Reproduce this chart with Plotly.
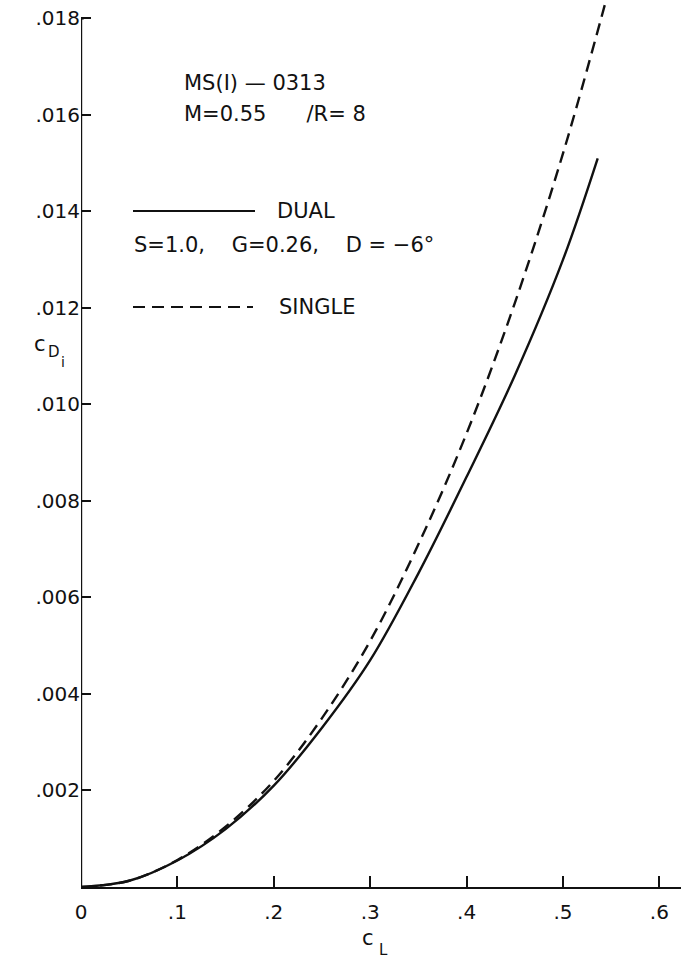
import plotly.graph_objects as go

# Lift coefficient stations and induced drag for the two configurations
cl = [0.0, 0.05, 0.10, 0.15, 0.20, 0.25, 0.30, 0.35, 0.40, 0.45, 0.50, 0.536]
cdi_dual = [0.0, 0.00013, 0.00055, 0.0012, 0.0021, 0.0033, 0.0047, 0.0065, 0.0085, 0.0106, 0.0130, 0.0151]

cl_single = [0.0, 0.05, 0.10, 0.15, 0.20, 0.25, 0.30, 0.35, 0.40, 0.45, 0.50, 0.545]
cdi_single = [0.0, 0.00013, 0.00056, 0.00125, 0.0022, 0.0035, 0.0051, 0.0071, 0.0094, 0.0121, 0.0152, 0.0184]

x_ticks = [0.1, 0.2, 0.3, 0.4, 0.5, 0.6]
x_tick_text = [".1", ".2", ".3", ".4", ".5", ".6"]
y_ticks = [0.002, 0.004, 0.006, 0.008, 0.010, 0.012, 0.014, 0.016, 0.018]
y_tick_text = [".002", ".004", ".006", ".008", ".010", ".012", ".014", ".016", ".018"]

FONT = "DejaVu Sans"
INK = "#111111"

W, H = 681, 967
ML, MB = 81, 80
X_MAX = 0.6224
Y_MAX = 0.01838


def px(xp):
    return (xp - ML) / (W - ML)


def py(yp):
    return (H - MB - yp) / (H - MB)


fig = go.Figure()
fig.add_trace(go.Scatter(x=cl, y=cdi_dual, mode="lines", line=dict(color=INK, width=2.4, shape="spline"),
                         showlegend=False, hoverinfo="skip"))
fig.add_trace(go.Scatter(x=cl_single, y=cdi_single, mode="lines",
                         line=dict(color=INK, width=2.4, dash="12px,7px", shape="spline"),
                         showlegend=False, hoverinfo="skip"))

# axes: y axis stops at .018
fig.add_shape(type="line", x0=0, x1=0, y0=0, y1=0.018, xref="x", yref="y", line=dict(color=INK, width=2.4))
fig.add_shape(type="line", x0=0, x1=0.0028, y0=0.018, y1=0.018, xref="x", yref="y", line=dict(color=INK, width=2.4))

# key
fig.add_shape(type="line", x0=px(133), x1=px(255), y0=py(211), y1=py(211), xref="paper", yref="paper",
              line=dict(color=INK, width=2.2))
fig.add_shape(type="line", x0=px(133), x1=px(253), y0=py(307), y1=py(307), xref="paper", yref="paper",
              line=dict(color=INK, width=2.2, dash="12px,7px"))

notes = [
    ("MS(I) \u2014 0313", 182, 83),
    ("M=0.55      /R= 8", 182, 114),
    ("DUAL", 275, 211),
    ("S=1.0,    G=0.26,    D = \u22126\u00b0", 132, 245),
    ("SINGLE", 277, 307),
]
for text, xp, yp in notes:
    fig.add_annotation(text=text, x=px(xp), y=py(yp), xref="paper", yref="paper", xanchor="left",
                       yanchor="middle", showarrow=False, font=dict(family=FONT, size=21, color=INK))

# axis titles (letter, x, y, size)
titles = [
    ("c", 40, 344, 21),
    ("D", 54, 352, 15),
    ("i", 63, 362, 14),
    ("c", 368, 938, 21),
    ("L", 383, 950, 15),
]
for text, xp, yp, size in titles:
    fig.add_annotation(text=text, x=px(xp), y=py(yp), xref="paper", yref="paper", xanchor="center",
                       yanchor="middle", showarrow=False, font=dict(family=FONT, size=size, color=INK))

fig.update_xaxes(range=[0, X_MAX], tickvals=[0] + x_ticks, ticktext=["0"] + x_tick_text,
                 ticks="inside", ticklen=11, tickwidth=2, tickcolor=INK,
                 showline=True, linecolor=INK, linewidth=2.2, showgrid=False, zeroline=False,
                 ticklabelstandoff=6,
                 tickfont=dict(family=FONT, size=20, color=INK))
fig.update_yaxes(range=[0, Y_MAX], tickvals=y_ticks, ticktext=y_tick_text,
                 ticks="inside", ticklen=10, tickwidth=2, tickcolor=INK,
                 showline=False, showgrid=False, zeroline=False,
                 tickfont=dict(family=FONT, size=20, color=INK))

fig.update_layout(width=W, height=H, margin=dict(l=ML, r=0, t=0, b=MB),
                  plot_bgcolor="white", paper_bgcolor="white")

fig.write_html("out.html")
